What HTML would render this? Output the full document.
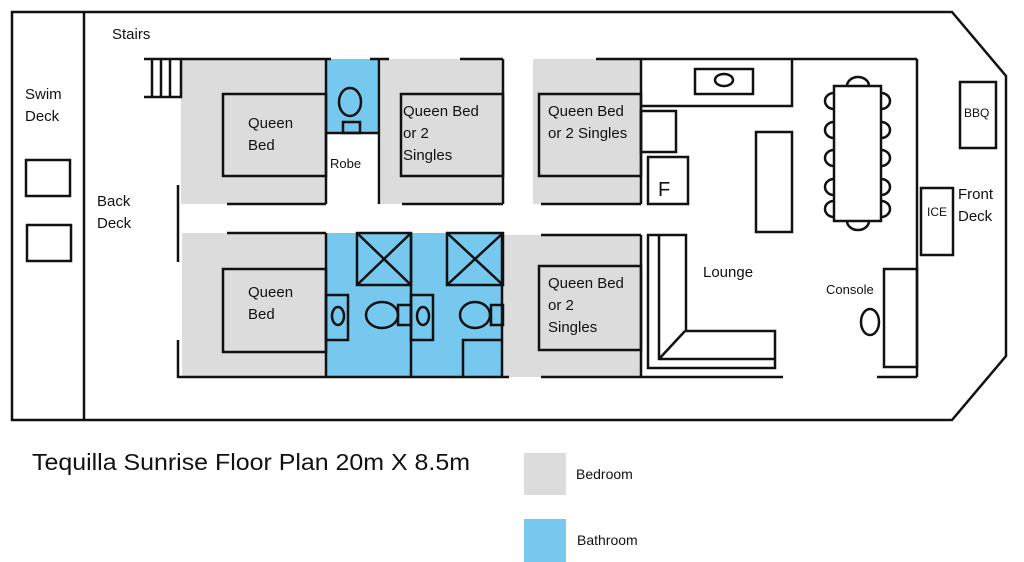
<!DOCTYPE html>
<html><head><meta charset="utf-8"><style>
html,body{margin:0;padding:0;background:#fff;width:1024px;height:562px;overflow:hidden}
svg{display:block}
text{font-family:"Liberation Sans",sans-serif;fill:#111}
</style></head><body>
<svg width="1024" height="562" viewBox="0 0 1024 562" xmlns="http://www.w3.org/2000/svg">
<g fill="#dcdcdc">
<rect x="181" y="59" width="145" height="145"/>
<rect x="381" y="59" width="122" height="145"/>
<rect x="533" y="59" width="108" height="145"/>
<rect x="182" y="233" width="144" height="144"/>
<rect x="502" y="235" width="139" height="142"/>
</g>
<g fill="#76c8ee">
<rect x="326" y="59" width="53" height="74"/>
<rect x="326" y="233" width="177" height="144"/>
</g>
<g fill="none" stroke="#111" stroke-width="2.5">
<path d="M12,12 H952 L1006,76 V356 L952,420 H12 Z"/>
<line x1="84" y1="12" x2="84" y2="420"/>
<rect x="26" y="160" width="44" height="36"/>
<rect x="27" y="225" width="44" height="36"/>
<!-- stairs -->
<path d="M144,59 H181 V97 H144 M152,59 V97 M161,59 V97 M170,59 V97"/>
<!-- upper rooms -->
<path d="M181,59 H331 M370,59 H389 M460,59 H503 M596,59 H917"/>
<path d="M326,59 V204 M379,59 V204 M503,59 V204 M641,59 V204"/>
<path d="M326,133 H379"/>
<path d="M227,204 H326 M402,204 H503 M541,204 H641"/>
<rect x="223" y="94" width="103" height="82"/>
<rect x="401" y="94" width="102" height="82"/>
<rect x="539" y="94" width="102" height="82"/>
<ellipse cx="350" cy="102" rx="11" ry="14"/>
<rect x="343" y="122" width="17" height="11"/>
<path d="M178,185 V262 M178,340 V378"/>
<!-- lower rooms -->
<path d="M227,233 H326 M541,235 H641"/>
<path d="M178,377 H509 M541,377 H783 M877,377 H917"/>
<path d="M326,233 V377 M411,233 V377 M502,233 V377 M641,235 V377"/>
<rect x="223" y="269" width="103" height="83"/>
<rect x="539" y="266" width="102" height="84"/>
<rect x="357" y="233" width="54" height="52"/>
<path d="M357,233 L411,285 M411,233 L357,285"/>
<rect x="447" y="233" width="56" height="52"/>
<path d="M447,233 L503,285 M503,233 L447,285"/>
<rect x="326" y="295" width="22" height="45"/>
<ellipse cx="338" cy="316" rx="6" ry="9"/>
<rect x="411" y="295" width="22" height="45"/>
<ellipse cx="423" cy="316" rx="6" ry="9"/>
<ellipse cx="382" cy="315" rx="16" ry="13"/>
<rect x="398" y="305" width="13" height="20"/>
<ellipse cx="475" cy="315" rx="15" ry="13"/>
<rect x="491" y="305" width="12" height="20"/>
<path d="M463,377 V340 H503"/>
<!-- kitchen / lounge -->
<path d="M792,59 V106 H641"/>
<rect x="695" y="69" width="58" height="25"/>
<ellipse cx="724" cy="80" rx="9" ry="6"/>
<rect x="641" y="111" width="35" height="41"/>
<rect x="648" y="157" width="40" height="47"/>
<rect x="756" y="132" width="36" height="100"/>
<path d="M648,235 H686 V331 H775 V368 H648 Z M659,235 V359 H775 M659,359 L685,331"/>
<!-- table -->
<g>
<path d="M834,93 a9,8 0 0 0 0,16 M834,122 a9,8 0 0 0 0,16 M834,150 a9,8 0 0 0 0,16 M834,179 a9,8 0 0 0 0,16 M834,201 a9,8 0 0 0 0,16"/>
<path d="M881,93 a9,8 0 0 1 0,16 M881,122 a9,8 0 0 1 0,16 M881,150 a9,8 0 0 1 0,16 M881,179 a9,8 0 0 1 0,16 M881,201 a9,8 0 0 1 0,16"/>
<path d="M847,86 a11,9 0 0 1 22,0 M847,221 a11,9 0 0 0 22,0"/>
<rect x="834" y="86" width="47" height="135" fill="#fff"/>
</g>
<path d="M917,59 V377"/>
<rect x="884" y="269" width="33" height="98"/>
<ellipse cx="870" cy="322" rx="9" ry="13"/>
<rect x="921" y="188" width="32" height="67"/>
<rect x="960" y="82" width="36" height="66"/>
</g>
<g font-size="15">
<text x="112" y="39">Stairs</text>
<text x="25" y="99">Swim</text><text x="25" y="121">Deck</text>
<text x="97" y="206">Back</text><text x="97" y="228">Deck</text>
<text x="248" y="128">Queen</text><text x="248" y="150">Bed</text>
<text x="248" y="297">Queen</text><text x="248" y="319">Bed</text>
<text x="403" y="116">Queen Bed</text><text x="403" y="138">or 2</text><text x="403" y="160">Singles</text>
<text x="548" y="116">Queen Bed</text><text x="548" y="138">or 2 Singles</text>
<text x="548" y="288">Queen Bed</text><text x="548" y="310">or 2</text><text x="548" y="332">Singles</text>
<text x="703" y="277">Lounge</text>
<text x="958" y="199">Front</text><text x="958" y="221">Deck</text>
</g>
<text x="330" y="168" font-size="13">Robe</text>
<text x="826" y="294" font-size="13">Console</text>
<text x="927" y="216" font-size="12">ICE</text>
<text x="964" y="117" font-size="12">BBQ</text>
<text x="658" y="196" font-size="20">F</text>
<text x="32" y="470" font-size="23" textLength="438" lengthAdjust="spacingAndGlyphs">Tequilla Sunrise Floor Plan 20m X 8.5m</text>
<rect x="524" y="453" width="42" height="42" fill="#dcdcdc"/>
<rect x="524" y="519" width="42" height="43" fill="#76c8ee"/>
<text x="576" y="479" font-size="14">Bedroom</text>
<text x="577" y="545" font-size="14">Bathroom</text>
</svg>
</body></html>
